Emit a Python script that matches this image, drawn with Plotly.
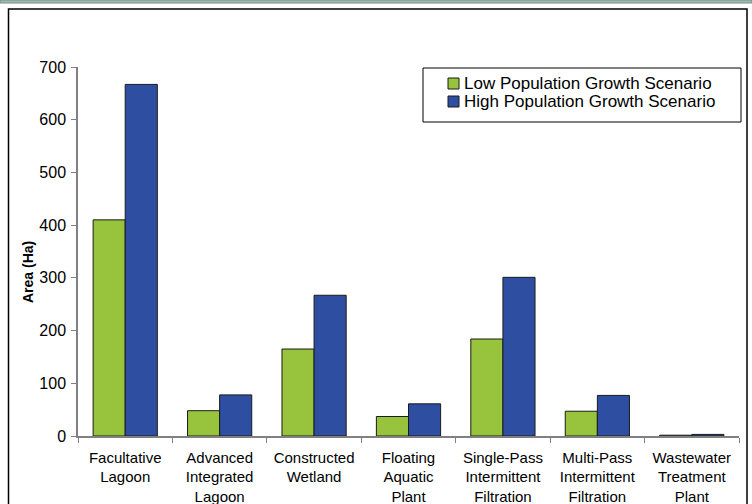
import plotly.graph_objects as go

# Treatment technologies and land area required (hectares)
categories = [
    "Facultative<br>Lagoon",
    "Advanced<br>Integrated<br>Lagoon",
    "Constructed<br>Wetland",
    "Floating<br>Aquatic<br>Plant",
    "Single-Pass<br>Intermittent<br>Filtration",
    "Multi-Pass<br>Intermittent<br>Filtration",
    "Wastewater<br>Treatment<br>Plant",
]
low_growth = [410, 48, 165, 37, 184, 47, 1.5]
high_growth = [667, 78, 267, 61, 301, 77, 3]
series_names = ["Low Population Growth Scenario", "High Population Growth Scenario"]
y_ticks = [0, 100, 200, 300, 400, 500, 600, 700]

GREEN = "#98c33c"
BLUE = "#2e4fa1"
FONT = "Liberation Sans, Arial, sans-serif"

W, H = 752, 504
L, R, T, B = 78, 13, 67, 68
PW, PH = W - L - R, H - T - B


def px_x(px):
    return (px - L) / PW


def px_y(py):
    return (H - B - py) / PH


fig = go.Figure()
for name, vals, color in zip(series_names, [low_growth, high_growth], [GREEN, BLUE]):
    fig.add_trace(go.Bar(
        x=categories, y=vals, name=name,
        marker=dict(color=color, line=dict(color="#1a1a1a", width=1)),
        showlegend=False,
    ))

shapes = []
# top band of the page
shapes.append(dict(type="rect", xref="paper", yref="paper",
                   x0=px_x(0), x1=px_x(W), y0=px_y(3), y1=px_y(0),
                   fillcolor="#a6b8b3", line=dict(color="#70908a", width=1), layer="above"))
# chart frame
shapes.append(dict(type="rect", xref="paper", yref="paper",
                   x0=px_x(8.5), x1=px_x(747), y0=px_y(H + 5), y1=px_y(9),
                   fillcolor="rgba(0,0,0,0)", line=dict(color="black", width=1.5)))
# legend box
lx0, lx1, ly0, ly1 = 423, 741, 68, 122
shapes.append(dict(type="rect", xref="paper", yref="paper",
                   x0=px_x(lx0), x1=px_x(lx1), y0=px_y(ly1), y1=px_y(ly0),
                   fillcolor="white", line=dict(color="black", width=1)))

annotations = []
row_centers = [83.5, 101.5]
for name, color, cy in zip(series_names, [GREEN, BLUE], row_centers):
    shapes.append(dict(type="rect", xref="paper", yref="paper",
                       x0=px_x(448), x1=px_x(459), y0=px_y(cy + 5.5), y1=px_y(cy - 5.5),
                       fillcolor=color, line=dict(color="#1a1a1a", width=1)))
    annotations.append(dict(text=name, xref="paper", yref="paper",
                            x=px_x(462), y=px_y(cy), xanchor="left", yanchor="middle",
                            showarrow=False, font=dict(family=FONT, size=17, color="black")))

# y-axis title
annotations.append(dict(text="<b>Area (Ha)</b>", xref="paper", yref="paper",
                        x=px_x(28), y=px_y(272), xanchor="center", yanchor="middle",
                        textangle=-90, showarrow=False,
                        font=dict(family=FONT, size=14, color="black")))

fig.update_layout(
    width=W, height=H,
    margin=dict(l=L, r=R, t=T, b=B, autoexpand=False),
    paper_bgcolor="white", plot_bgcolor="white",
    barmode="group", bargap=0.32, bargroupgap=0,
    font=dict(family=FONT, color="black"),
    shapes=shapes, annotations=annotations,
    xaxis=dict(
        type="category", showline=True, linecolor="#808080", linewidth=1.5,
        ticks="outside", tickson="boundaries", ticklen=5, tickcolor="#808080",
        tickfont=dict(family=FONT, size=15, color="black"),
        ticklabelstandoff=7, automargin=False,
        showgrid=False, zeroline=False,
    ),
    yaxis=dict(
        range=[0, 700], tickvals=y_ticks, showline=True, linecolor="#808080", linewidth=1.5,
        ticks="outside", ticklen=5, tickcolor="#808080",
        tickfont=dict(family=FONT, size=16, color="black"),
        ticklabelstandoff=2, automargin=False,
        showgrid=False, zeroline=False,
    ),
)

fig.write_html("out.html")
